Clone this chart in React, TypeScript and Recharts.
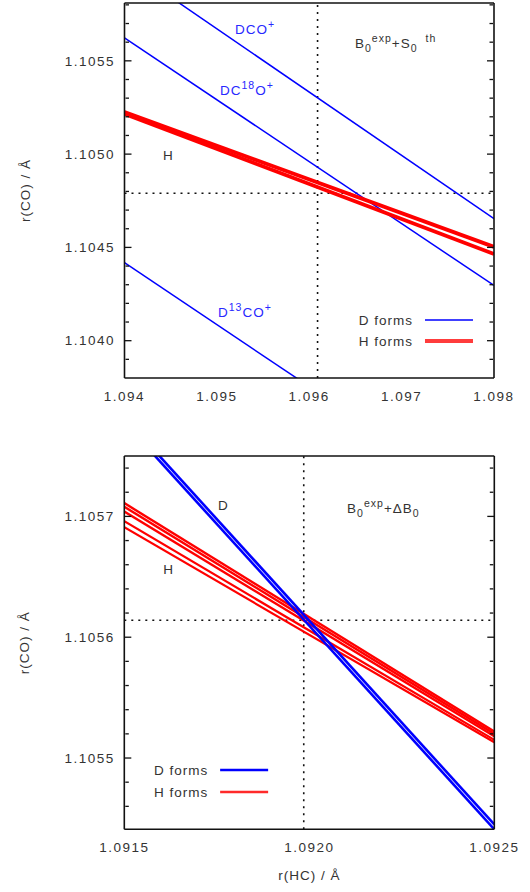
import React from "react";
import { LineChart, Line, XAxis, YAxis, ReferenceLine, ReferenceDot } from "recharts";

// ---- top panel: B0exp + S0th ----
const topEnds = [1.094, 1.098];
const dcoPlus = [1.106011, 1.104654];
const dc18oPlus = [1.105623, 1.104296];
const d13coPlus = [1.104418, 1.10309];
const hTopA = [1.105226, 1.104503];
const hTopB = [1.105215, 1.104465];
const topCross = [1.09609, 1.10479];

const topXTicks = [1.094, 1.095, 1.096, 1.097, 1.098];
const topXMinor = [
  1.0942, 1.0944, 1.0946, 1.0948, 1.0952, 1.0954, 1.0956, 1.0958,
  1.0962, 1.0964, 1.0966, 1.0968, 1.0972, 1.0974, 1.0976, 1.0978,
];
const topYTicks = [1.104, 1.1045, 1.105, 1.1055];
const topYMinor = [
  1.1039, 1.1041, 1.1042, 1.1043, 1.1044, 1.1046, 1.1047, 1.1048,
  1.1049, 1.1051, 1.1052, 1.1053, 1.1054, 1.1056, 1.1057, 1.1058,
];

// ---- bottom panel: B0exp + dB0 ----
const botEnds = [1.0915, 1.0925];
const dBotA = [1.105778, 1.105441];
const dBotB = [1.105782, 1.105445];
const hBotA = [1.105711, 1.105522];
const hBotB = [1.105708, 1.10552];
const hBotC = [1.105704, 1.105518];
const hBotD = [1.105696, 1.105515];
const hBotE = [1.105691, 1.105513];
const botCross = [1.091985, 1.105614];

const botXTicks = [1.0915, 1.092, 1.0925];
const botXMinor = [1.0916, 1.0917, 1.0918, 1.0919, 1.0921, 1.0922, 1.0923, 1.0924];
const botYTicks = [1.1055, 1.1056, 1.1057];
const botYMinor = [
  1.10546, 1.10548, 1.10552, 1.10554, 1.10556, 1.10558,
  1.10562, 1.10564, 1.10566, 1.10568, 1.10572, 1.10574,
];

const FONT = '"Liberation Sans", Arial, Helvetica, sans-serif';
const INK = "#333";
const BLUE = "#0000ff";
const RED = "#ff0000";
const tickStyle = { fill: INK, fontSize: 13.5, fontFamily: FONT, letterSpacing: 1.5 };

const pts = (xs: number[], ys: number[]) => xs.map((x, i) => ({ x, y: ys[i] }));

type Part = { t: string; s?: "sub" | "sup"; dx?: number };

function RichText({ x, y, parts, fill = INK, size = 13.5, anchor = "start" }: any) {
  let shift = 0;
  const spans = (parts as Part[]).map((p, i) => {
    const target = p.s === "sub" ? size * 0.32 : p.s === "sup" ? -size * 0.45 : 0;
    const dy = target - shift;
    shift = target;
    return (
      <tspan key={i} dy={dy} dx={p.dx} fontSize={p.s ? size * 0.78 : size}>
        {p.t}
      </tspan>
    );
  });
  return (
    <text x={x} y={y} fill={fill} fontFamily={FONT} fontSize={size} letterSpacing={1} textAnchor={anchor}>
      {spans}
    </text>
  );
}

function note(key: string, x: number, y: number, parts: Part[], fill = INK) {
  return (
    <ReferenceDot
      key={key}
      xAxisId="lab"
      yAxisId="lab"
      x={x}
      y={y}
      r={0}
      ifOverflow="visible"
      shape={(p: any) => <RichText x={p.cx} y={p.cy} parts={parts} fill={fill} />}
    />
  );
}

function legend(x: number, y: number, gap: number, dWidth: number, hWidth: number, hColor: string) {
  return (
    <ReferenceDot
      key="legend"
      xAxisId="lab"
      yAxisId="lab"
      x={x}
      y={y}
      r={0}
      ifOverflow="visible"
      shape={(p: any) => (
        <g>
          <RichText x={p.cx - 12} y={p.cy + 5} parts={[{ t: "D forms" }]} anchor="end" />
          <line x1={p.cx} x2={p.cx + 48} y1={p.cy} y2={p.cy} stroke={BLUE} strokeWidth={dWidth} />
          <RichText x={p.cx - 12} y={p.cy + gap + 5} parts={[{ t: "H forms" }]} anchor="end" />
          <line x1={p.cx} x2={p.cx + 48} y1={p.cy + gap} y2={p.cy + gap} stroke={hColor} strokeWidth={hWidth} />
        </g>
      )}
    />
  );
}

type AxisCfg = {
  xDomain: number[];
  yDomain: number[];
  xTicks: number[];
  xMinor: number[];
  yTicks: number[];
  yMinor: number[];
  xDigits: number;
  xTitle?: string;
};

// empty label so the tick line is still drawn
const noLabel = () => <g />;

function frameAxes(c: AxisCfg) {
  const frame = { stroke: "#111", strokeWidth: 1.6 };
  const tl = { stroke: "#111", strokeWidth: 1.3 };
  const common = { type: "number" as const, allowDataOverflow: true, interval: 0 as const };
  const xm = { ...common, mirror: true, height: 1, tick: noLabel, tickLine: tl };
  const ym = { ...common, mirror: true, width: 1, tick: noLabel, tickLine: tl };
  const xTitle = c.xTitle
    ? (p: any) => {
        const vb = p.viewBox || {};
        return (
          <text x={vb.x + vb.width / 2} y={vb.y + 46} textAnchor="middle" dominantBaseline="central"
            fill={INK} fontFamily={FONT} fontSize={13.5} letterSpacing={1}>
            {c.xTitle}
          </text>
        );
      }
    : undefined;
  const yTitle = (p: any) => {
    const vb = p.viewBox || {};
    const x = vb.x - 39.5;
    const y = vb.y + vb.height / 2;
    return (
      <text x={x} y={y} transform={`rotate(-90, ${x}, ${y})`} textAnchor="middle" dominantBaseline="central"
        fill={INK} fontFamily={FONT} fontSize={13.5} letterSpacing={1}>
        r(CO) / Å
      </text>
    );
  };
  return [
    <XAxis key="xl" xAxisId="lab" dataKey="x" {...common} domain={c.xDomain} ticks={c.xTicks}
      tickFormatter={(v: number) => v.toFixed(c.xDigits)} tickLine={false} axisLine={false}
      tickSize={0} tickMargin={13} height={30} tick={tickStyle} label={xTitle} />,
    <XAxis key="xb" xAxisId="bMaj" {...xm} domain={c.xDomain} ticks={c.xTicks} orientation="bottom"
      tickSize={7} axisLine={frame} />,
    <XAxis key="xbm" xAxisId="bMin" {...xm} domain={c.xDomain} ticks={c.xMinor} orientation="bottom"
      tickSize={3.5} axisLine={false} />,
    <XAxis key="xt" xAxisId="tMaj" {...xm} domain={c.xDomain} ticks={c.xTicks} orientation="top"
      tickSize={7} axisLine={frame} />,
    <XAxis key="xtm" xAxisId="tMin" {...xm} domain={c.xDomain} ticks={c.xMinor} orientation="top"
      tickSize={3.5} axisLine={false} />,
    <YAxis key="yl" yAxisId="lab" {...common} domain={c.yDomain} ticks={c.yTicks}
      tickFormatter={(v: number) => v.toFixed(4)} tickLine={false} axisLine={false}
      tickSize={0} tickMargin={9.5} width={60} tick={tickStyle} label={yTitle} />,
    <YAxis key="ylm" yAxisId="lMaj" {...ym} domain={c.yDomain} ticks={c.yTicks} orientation="left"
      tickSize={7} axisLine={frame} />,
    <YAxis key="ylmm" yAxisId="lMin" {...ym} domain={c.yDomain} ticks={c.yMinor} orientation="left"
      tickSize={3.5} axisLine={false} />,
    <YAxis key="yr" yAxisId="rMaj" {...ym} domain={c.yDomain} ticks={c.yTicks} orientation="right"
      tickSize={7} axisLine={frame} />,
    <YAxis key="yrm" yAxisId="rMin" {...ym} domain={c.yDomain} ticks={c.yMinor} orientation="right"
      tickSize={3.5} axisLine={false} />,
  ];
}

function series(key: string, data: { x: number; y: number }[], stroke: string, width: number) {
  return (
    <Line key={key} xAxisId="lab" yAxisId="lab" data={data} dataKey="y" type="linear" stroke={stroke}
      strokeWidth={width} dot={false} activeDot={false} isAnimationActive={false} />
  );
}

function crossLines(cross: number[]) {
  const style = { stroke: "#111", strokeWidth: 1.6, strokeDasharray: "2 5" };
  return [
    <ReferenceLine key="cx" xAxisId="lab" yAxisId="lab" x={cross[0]} {...style} />,
    <ReferenceLine key="cy" xAxisId="lab" yAxisId="lab" y={cross[1]} {...style} />,
  ];
}

export default function App() {
  return (
    <div style={{ position: "absolute", left: 0, top: 0, width: 530, height: 892, background: "#fff" }}>
      <div style={{ position: "absolute", left: 0, top: 0 }}>
        <LineChart width={530} height={420} margin={{ top: 3, right: 36, bottom: 12, left: 64.5 }}>
          {frameAxes({
            xDomain: [1.094, 1.098],
            yDomain: [1.1038, 1.10581],
            xTicks: topXTicks,
            xMinor: topXMinor,
            yTicks: topYTicks,
            yMinor: topYMinor,
            xDigits: 3,
          })}
          {crossLines(topCross)}
          {series("dco", pts(topEnds, dcoPlus), BLUE, 1.5)}
          {series("dc18o", pts(topEnds, dc18oPlus), BLUE, 1.5)}
          {series("d13co", pts(topEnds, d13coPlus), BLUE, 1.5)}
          {series("hA", pts(topEnds, hTopA), RED, 3.8)}
          {series("hB", pts(topEnds, hTopB), RED, 3.8)}
          {note("n1", 1.095196, 1.105644, [{ t: "DCO" }, { t: "+", s: "sup" }], "#2828ff")}
          {note("n2", 1.095034, 1.105317, [{ t: "DC" }, { t: "18", s: "sup" }, { t: "O" }, { t: "+", s: "sup" }], "#2828ff")}
          {note("n3", 1.095012, 1.104127, [{ t: "D" }, { t: "13", s: "sup" }, { t: "CO" }, { t: "+", s: "sup" }], "#2828ff")}
          {note("n4", 1.094417, 1.104968, [{ t: "H" }])}
          {note("n5", 1.096495, 1.105569, [
            { t: "B" }, { t: "0", s: "sub" }, { t: "exp", s: "sup" }, { t: "+S" }, { t: "0", s: "sub" }, { t: "th", s: "sup", dx: 8 },
          ])}
          {legend(1.097253, 1.104111, 21, 1.5, 4, "#ff3c3c")}
        </LineChart>
      </div>
      <div style={{ position: "absolute", left: 0, top: 420 }}>
        <LineChart width={530} height={472} margin={{ top: 36, right: 35.7, bottom: 32.7, left: 64.3 }}>
          {frameAxes({
            xDomain: [1.0915, 1.0925],
            yDomain: [1.105441, 1.10575],
            xTicks: botXTicks,
            xMinor: botXMinor,
            yTicks: botYTicks,
            yMinor: botYMinor,
            xDigits: 4,
            xTitle: "r(HC) / Å",
          })}
          {crossLines(botCross)}
          {series("hA", pts(botEnds, hBotA), RED, 2.4)}
          {series("hB", pts(botEnds, hBotB), RED, 2.4)}
          {series("hC", pts(botEnds, hBotC), RED, 2.4)}
          {series("hD", pts(botEnds, hBotD), RED, 2.2)}
          {series("hE", pts(botEnds, hBotE), RED, 2.2)}
          {series("dA", pts(botEnds, dBotA), BLUE, 2.6)}
          {series("dB", pts(botEnds, dBotB), BLUE, 2.6)}
          {note("m1", 1.091753, 1.105705, [{ t: "D" }])}
          {note("m2", 1.091605, 1.105652, [{ t: "H" }])}
          {note("m3", 1.092102, 1.105703, [
            { t: "B" }, { t: "0", s: "sub" }, { t: "exp", s: "sup" }, { t: "+ΔB" }, { t: "0", s: "sub" },
          ])}
          {legend(1.091759, 1.10549, 22, 2.5, 2.5, "#ff2a2a")}
        </LineChart>
      </div>
    </div>
  );
}
